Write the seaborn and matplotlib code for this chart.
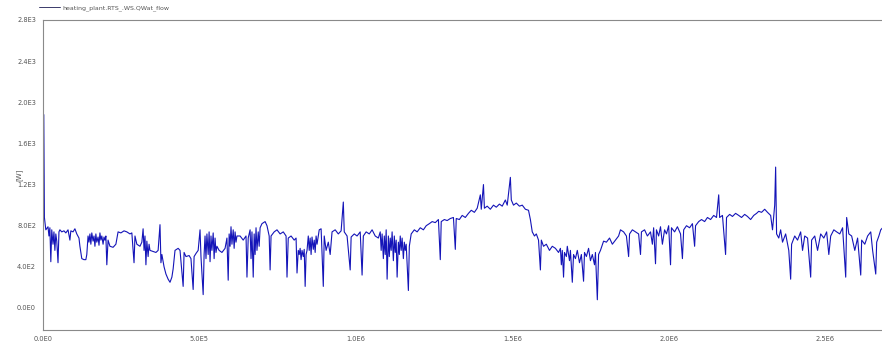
import numpy as np
import pandas as pd
import matplotlib
matplotlib.use("Agg")
import matplotlib.pyplot as plt
from matplotlib.ticker import FuncFormatter, MultipleLocator
import seaborn as sns

# Simulation time in units of 1e4 s and heat flow in W
time_1e4_s = [
    0.0, 0.25, 0.45, 0.9, 1.6, 1.9, 2.2, 2.5, 2.8, 3.2,
    3.5, 3.8, 4.1, 4.4, 4.8, 5.1, 5.4, 6.0, 6.7, 7.3,
    8.0, 8.6, 8.9, 9.6, 10.2, 10.8, 11.5, 11.8, 12.4, 13.1,
    13.7, 14.0, 14.4, 14.7, 15.0, 15.3, 15.6, 16.0, 16.3, 16.6,
    16.9, 17.2, 17.6, 17.9, 18.2, 18.5, 18.8, 19.2, 19.5, 19.8,
    20.1, 20.4, 20.8, 21.4, 22.4, 23.3, 24.0, 24.9, 25.9, 26.8,
    27.8, 28.4, 29.1, 29.4, 30.0, 31.0, 31.6, 32.0, 32.3, 32.6,
    32.9, 33.2, 33.6, 33.9, 34.2, 35.2, 36.1, 36.8, 37.4, 37.7,
    38.0, 38.7, 39.3, 40.0, 40.6, 41.2, 41.6, 42.2, 43.2, 43.8,
    44.8, 45.1, 45.7, 46.7, 47.3, 48.0, 48.3, 48.9, 49.6, 50.2,
    50.5, 51.2, 51.5, 51.8, 52.1, 52.4, 52.8, 53.1, 53.4, 53.7,
    54.0, 54.4, 54.7, 55.0, 55.3, 55.6, 56.3, 57.2, 58.2, 58.8,
    59.2, 59.5, 59.8, 60.1, 60.4, 60.8, 61.1, 61.4, 61.7, 62.0,
    63.0, 64.0, 64.9, 65.2, 65.6, 66.2, 66.5, 66.8, 67.2, 67.5,
    67.8, 68.1, 68.4, 68.8, 69.1, 69.4, 70.0, 71.0, 71.6, 72.3,
    72.6, 72.9, 73.9, 74.8, 75.8, 76.8, 77.7, 78.0, 78.4, 79.3,
    80.3, 80.9, 81.2, 81.6, 81.9, 82.2, 82.5, 82.8, 83.2, 83.5,
    83.8, 84.1, 84.4, 84.8, 85.1, 85.4, 85.7, 86.0, 86.4, 86.7,
    87.0, 87.3, 87.6, 88.3, 88.9, 89.6, 89.9, 90.5, 91.2, 91.8,
    92.4, 93.4, 94.4, 95.3, 96.0, 96.3, 97.2, 98.2, 98.5, 99.5,
    100.4, 101.4, 102.0, 102.4, 103.3, 104.3, 105.2, 106.2, 107.2, 107.8,
    108.1, 108.4, 108.8, 109.1, 109.4, 109.7, 110.0, 110.4, 110.7, 111.0,
    111.3, 111.6, 112.0, 112.3, 112.6, 112.9, 113.2, 113.6, 113.9, 114.2,
    114.5, 114.8, 115.2, 115.5, 115.8, 116.1, 116.8, 117.1, 117.7, 118.7,
    119.6, 120.6, 121.6, 122.5, 123.5, 124.4, 125.4, 126.4, 127.0, 127.3,
    128.3, 129.2, 130.2, 131.2, 131.8, 132.1, 133.1, 134.0, 135.0, 136.0,
    136.9, 137.9, 138.8, 139.8, 140.1, 140.8, 141.1, 142.0, 143.0, 144.0,
    144.9, 145.9, 146.8, 147.8, 148.4, 149.4, 149.7, 150.4, 151.3, 152.3,
    153.2, 154.2, 155.2, 155.8, 156.4, 157.1, 157.7, 158.4, 159.0, 159.3,
    160.0, 160.9, 161.9, 162.8, 163.8, 164.8, 165.4, 165.7, 166.0, 166.4,
    166.7, 167.3, 167.6, 168.3, 168.6, 169.2, 169.6, 170.2, 170.8, 171.5,
    172.1, 172.8, 173.1, 173.7, 174.4, 175.0, 175.6, 176.3, 176.6, 177.2,
    177.6, 178.2, 179.2, 180.1, 181.1, 182.0, 183.0, 184.0, 184.6, 185.6,
    186.5, 187.2, 187.5, 188.4, 189.4, 190.4, 191.0, 191.3, 192.3, 193.2,
    194.2, 194.8, 195.2, 195.8, 196.1, 196.8, 197.4, 198.0, 198.7, 199.3,
    200.0, 200.6, 200.9, 201.9, 202.8, 203.8, 204.4, 204.8, 205.7, 206.7,
    207.6, 208.3, 208.6, 209.6, 210.5, 211.5, 212.4, 213.4, 214.4, 215.3,
    216.0, 216.3, 217.2, 218.2, 218.5, 219.5, 220.4, 221.4, 222.4, 223.3,
    224.3, 225.2, 226.2, 227.2, 228.1, 228.8, 229.7, 230.7, 231.6, 232.6,
    233.2, 233.9, 234.2, 234.5, 235.2, 235.8, 236.4, 237.4, 238.4, 239.0,
    239.3, 240.3, 241.2, 242.2, 242.8, 243.5, 244.4, 245.4, 245.7, 246.7,
    247.6, 248.6, 249.6, 250.5, 251.2, 251.8, 252.8, 253.7, 254.7, 255.6,
    256.6, 256.9, 257.6, 258.5, 259.5, 260.4, 261.4, 261.7, 262.7, 263.6,
    264.6, 265.2, 266.2, 266.5, 267.2, 267.8, 268.4,
]

q_flow_w = [
    800, 1880, 880, 760, 790, 700, 780, 450, 760, 620,
    740, 560, 720, 650, 440, 740, 760, 740, 750, 730,
    760, 660, 750, 740, 770, 720, 680, 600, 480, 470,
    470, 520, 700, 640, 720, 620, 730, 650, 700, 600,
    720, 640, 690, 610, 730, 660, 700, 620, 690, 660,
    700, 420, 660, 600, 590, 620, 740, 730, 750, 740,
    720, 730, 440, 700, 620, 600, 640, 770, 560, 700,
    420, 650, 500, 620, 560, 550, 540, 560, 810, 440,
    520, 400, 330, 280, 250, 300, 380, 560, 580, 560,
    210, 540, 500, 510, 480, 180, 500, 530, 560, 760,
    500, 130, 520, 700, 480, 720, 520, 740, 450, 700,
    560, 730, 480, 680, 540, 600, 560, 540, 580, 680,
    270, 720, 600, 790, 620, 760, 580, 740, 640, 700,
    700, 660, 700, 300, 680, 760, 480, 740, 300, 720,
    520, 780, 560, 740, 600, 780, 820, 840, 800, 700,
    370, 700, 740, 760, 720, 740, 700, 300, 680, 700,
    660, 680, 340, 560, 520, 580, 470, 560, 500, 570,
    210, 520, 560, 700, 560, 680, 520, 690, 570, 660,
    540, 700, 620, 760, 770, 210, 700, 560, 640, 520,
    740, 760, 720, 750, 1030, 740, 700, 370, 690, 720,
    700, 740, 320, 700, 740, 720, 760, 700, 680, 740,
    560, 720, 480, 700, 520, 760, 280, 700, 500, 680,
    560, 740, 460, 700, 540, 660, 300, 640, 520, 700,
    560, 680, 480, 640, 560, 620, 170, 600, 720, 760,
    740, 780, 760, 800, 820, 840, 830, 860, 470, 840,
    860, 850, 870, 880, 570, 870, 860, 900, 880, 920,
    950, 930, 970, 1100, 960, 1200, 970, 990, 960, 1000,
    980, 1010, 990, 1050, 1000, 1270, 1050, 1000, 1020, 990,
    1000, 960, 950, 860, 740, 700, 720, 660, 370, 660,
    600, 620, 560, 600, 580, 540, 580, 420, 560, 300,
    540, 500, 600, 460, 560, 250, 520, 480, 560, 440,
    520, 260, 540, 500, 580, 460, 520, 420, 540, 80,
    520, 560, 650, 640, 680, 620, 660, 700, 760, 740,
    700, 500, 720, 760, 740, 720, 520, 740, 760, 700,
    740, 620, 780, 430, 760, 700, 790, 620, 760, 720,
    800, 420, 780, 740, 790, 720, 480, 760, 800, 780,
    820, 600, 800, 840, 860, 840, 880, 860, 900, 880,
    1100, 880, 900, 520, 880, 910, 890, 920, 900, 880,
    910, 890, 860, 900, 920, 940, 930, 960, 930, 900,
    760, 1000, 1370, 720, 680, 760, 640, 720, 560, 280,
    620, 700, 660, 740, 560, 700, 680, 300, 660, 700,
    560, 720, 680, 740, 520, 700, 760, 740, 720, 780,
    300, 880, 720, 700, 560, 680, 320, 660, 620, 700,
    740, 560, 330, 640, 700, 760, 780,
]

series_name = "heating_plant.RTS_.WS.QWat_flow"
y_unit = "[W]"
y_ticks = [0, 400, 800, 1200, 1600, 2000, 2400, 2800]
x_ticks = [0, 5e5, 1e6, 1.5e6, 2e6, 2.5e6]

assert len(time_1e4_s) == len(q_flow_w)
df = pd.DataFrame({
    "time": np.asarray(time_1e4_s) * 1e4,
    "value": np.asarray(q_flow_w, dtype=float),
})

sns.set_style("white")
plt.rcParams["font.family"] = ["DejaVu Sans"]


def sci_label(v, pos=None):
    if abs(v) < 1e-9:
        return "0.0E0"
    e = int(np.floor(np.log10(abs(v)) + 1e-9))
    m = round(v / 10 ** e, 1)
    if abs(m) >= 10:
        m /= 10
        e += 1
    return f"{m:.1f}E{e}"


W, H = 882, 341
fig = plt.figure(figsize=(W / 100, H / 100), dpi=100)
ax = fig.add_axes([43 / W, 11 / H, (W - 43) / W, 310 / H])

sns.lineplot(data=df, x="time", y="value", ax=ax, color="#1414b8",
             linewidth=0.8, estimator=None, sort=False, label=series_name)

ax.set_xlim(0, 2.682e6)
ax.set_ylim(-214, 2800)

ax.set_xticks(x_ticks)
ax.xaxis.set_minor_locator(MultipleLocator(1e5))
ax.set_yticks(y_ticks)
ax.yaxis.set_minor_locator(MultipleLocator(200))
ax.xaxis.set_major_formatter(FuncFormatter(sci_label))
ax.yaxis.set_major_formatter(FuncFormatter(sci_label))

tick_color = "#8a8a8a"
ax.tick_params(axis="both", which="major", labelsize=4.8, labelcolor="#555555",
               color=tick_color, width=0.6)
ax.tick_params(axis="x", which="both", direction="inout", length=4, pad=2)
ax.tick_params(axis="x", which="minor", length=3, color=tick_color, width=0.6)
ax.tick_params(axis="y", which="major", direction="out", length=3, pad=2)
ax.tick_params(axis="y", which="minor", direction="out", length=2,
               color=tick_color, width=0.6)

for side in ("left", "bottom", "top"):
    ax.spines[side].set_color(tick_color)
    ax.spines[side].set_linewidth(0.8)
ax.spines["right"].set_visible(False)

ax.set_xlabel("")
ax.set_ylabel(y_unit, fontsize=5, color="#555555")
ax.yaxis.set_label_coords(-21 / (W - 43), 0.5)

leg = ax.legend(loc="center left", bbox_to_anchor=(-4 / (W - 43), 1 + 12 / 310),
                frameon=False, fontsize=4.5, handlelength=3.3, handletextpad=0.5,
                borderaxespad=0, borderpad=0)
for t in leg.get_texts():
    t.set_color("#555555")
for h in leg.legend_handles:
    h.set_color("#3a3a6a")
    h.set_linewidth(0.7)

fig.savefig("out.png", dpi=100)
